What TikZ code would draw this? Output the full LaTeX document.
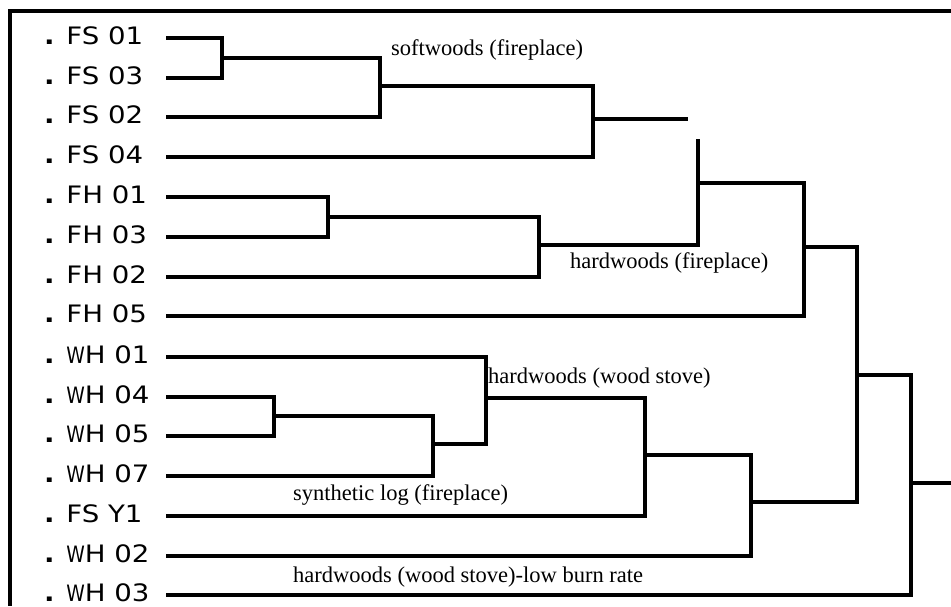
\documentclass[tikz,border=0pt]{standalone}
\usepackage{fontspec}
\usepackage{graphicx}
\setmainfont{Liberation Serif}
\newfontfamily\lblfont[FakeStretch=1.15]{DejaVu Sans}
\newcommand\nW{\scalebox{0.68}[0.94]{W}}
\begin{document}
\begin{tikzpicture}[x=1pt,y=-1pt,
  leaf/.style={anchor=base west,inner sep=0pt,font=\lblfont\fontsize{24}{28}\selectfont},
  grp/.style={anchor=base west,inner sep=0pt,font=\fontsize{22.5}{27}\selectfont},
  link/.style={line width=3.2pt,line join=miter},
  frame/.style={line width=3.2pt}]
\useasboundingbox (0,0) rectangle (951,606);
\draw[frame] (951,11) -- (10,11) -- (10,606);
% leaves
\foreach \n/\t/\y in {1/FS 01/38,2/FS 03/78,3/FS 02/117,4/FS 04/157,5/FH 01/197,6/FH 03/237,7/FH 02/277,8/FH 05/316,9/\nW H 01/357,10/\nW H 04/397,11/\nW H 05/436,12/\nW H 07/476,13/FS Y1/516,14/\nW H 02/556,15/\nW H 03/595}{
  \node[leaf] (lab\n) at (44,\y+6.5) {{\bfseries .} \t};
  \coordinate (L\n) at (166,\y);
}
% merge points
\coordinate (m1) at (222,58);
\coordinate (m2) at (380,86);
\coordinate (m3) at (593,119);
\coordinate (stub) at (688,119);
\coordinate (m4) at (328,217);
\coordinate (m5) at (539,245);
\coordinate (t6) at (698,139);
\coordinate (m6) at (698,183);
\coordinate (m7) at (804,247);
\coordinate (m8) at (274,416);
\coordinate (m9) at (433,444);
\coordinate (m10) at (486,398);
\coordinate (m11) at (645,455);
\coordinate (m12) at (751,502);
\coordinate (m13) at (857,375);
\coordinate (m14) at (911,483);
\coordinate (root) at (951,483);
% links
\draw[link] (L1) -| (m1) |- (L2);
\draw[link] (m1) -| (m2) |- (L3);
\draw[link] (m2) -| (m3) |- (L4);
\draw[link] (m3) -- (stub);
\draw[link] (L5) -| (m4) |- (L6);
\draw[link] (m4) -| (m5) |- (L7);
\draw[link] (t6) |- (m5);
\draw[link] (m6) -| (m7) |- (L8);
\draw[link] (L10) -| (m8) |- (L11);
\draw[link] (m8) -| (m9) |- (L12);
\draw[link] (L9) -| (m10) |- (m9);
\draw[link] (m10) -| (m11) |- (L13);
\draw[link] (m11) -| (m12) |- (L14);
\draw[link] (m7) -| (m13) |- (m12);
\draw[link] (m13) -| (m14) |- (L15);
\draw[link] (m14) -- (root);
% group labels
\node[grp] (g1) at (391,55) {softwoods (fireplace)};
\node[grp] (g2) at (570,268) {hardwoods (fireplace)};
\node[grp] (g3) at (488,383) {hardwoods (wood stove)};
\node[grp] (g4) at (293,500) {synthetic log (fireplace)};
\node[grp] (g5) at (293,582) {hardwoods (wood stove)-low burn rate};
\end{tikzpicture}
\end{document}
